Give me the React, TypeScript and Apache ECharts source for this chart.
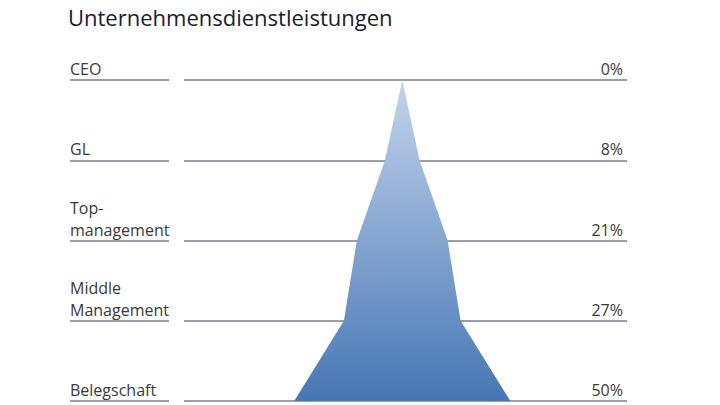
import React, { useEffect, useRef } from "react";
import * as echarts from "echarts";

const title = "Unternehmensdienstleistungen";
const levels = ["CEO", "GL", "Top-\nmanagement", "Middle\nManagement", "Belegschaft"];
const shares = [0, 8, 21, 27, 50];

const FONT = "'Open Sans', 'Noto Sans', sans-serif";
const LINE = "#9b9ea4";

export default function App() {
  const ref = useRef<HTMLDivElement>(null);
  useEffect(() => {
    if (!ref.current) return;
    const chart = echarts.init(ref.current, undefined, { renderer: "svg" });
    const gradient = new echarts.graphic.LinearGradient(0, 0, 0, 1, [
      { offset: 0, color: "#c4d4eb" },
      { offset: 1, color: "#4676b5" },
    ]);
    chart.setOption({
      animation: false,
      backgroundColor: "#ffffff",
      textStyle: { fontFamily: FONT },
      title: {
        text: title,
        left: 63,
        top: 1,
        textStyle: { fontFamily: FONT, fontSize: 22, fontWeight: 500, color: "#1b2030" },
      },
      grid: [
        { left: 184, right: 93, top: 80, bottom: 4 },
        { left: 70, width: 99, top: 80, bottom: 4 },
      ],
      xAxis: [
        { type: "value", gridIndex: 0, min: -101, max: 104, show: false },
        { type: "value", gridIndex: 1, min: 0, max: 1, show: false },
      ],
      yAxis: [
        {
          type: "category",
          gridIndex: 0,
          data: levels,
          inverse: true,
          boundaryGap: false,
          position: "right",
          axisLine: { show: false },
          axisTick: { show: false },
          splitLine: { show: true, lineStyle: { color: LINE, width: 2 } },
          axisLabel: {
            inside: true,
            margin: 4,
            verticalAlign: "bottom",
            lineHeight: 22,
            fontSize: 16,
            color: "#3a3a3a",
            fontFamily: FONT,
            formatter: (_v: string, i: number) => `${shares[i]}%`,
          },
        },
        {
          type: "category",
          gridIndex: 1,
          data: levels,
          inverse: true,
          boundaryGap: false,
          position: "left",
          axisLine: { show: false },
          axisTick: { show: false },
          splitLine: { show: true, lineStyle: { color: LINE, width: 2 } },
          axisLabel: {
            inside: true,
            margin: 0,
            verticalAlign: "bottom",
            lineHeight: 22,
            fontSize: 16,
            color: "#3a3a3a",
            fontFamily: FONT,
          },
        },
      ],
      series: [
        {
          type: "custom",
          xAxisIndex: 0,
          yAxisIndex: 0,
          data: shares.map((s, i) => [s, i]),
          renderItem: (params: any, api: any) => {
            if (params.dataIndex !== 0) return null;
            const pts: number[][] = [];
            for (let i = 0; i < shares.length; i++) pts.push(api.coord([shares[i], i]));
            for (let i = shares.length - 1; i >= 0; i--) pts.push(api.coord([-shares[i], i]));
            return {
              type: "polygon",
              shape: { points: pts },
              style: { fill: gradient },
            };
          },
        },
      ],
    });
    return () => chart.dispose();
  }, []);
  return (
    <div
      ref={ref}
      style={{ position: "fixed", left: 0, top: 0, width: 720, height: 405 }}
    />
  );
}
